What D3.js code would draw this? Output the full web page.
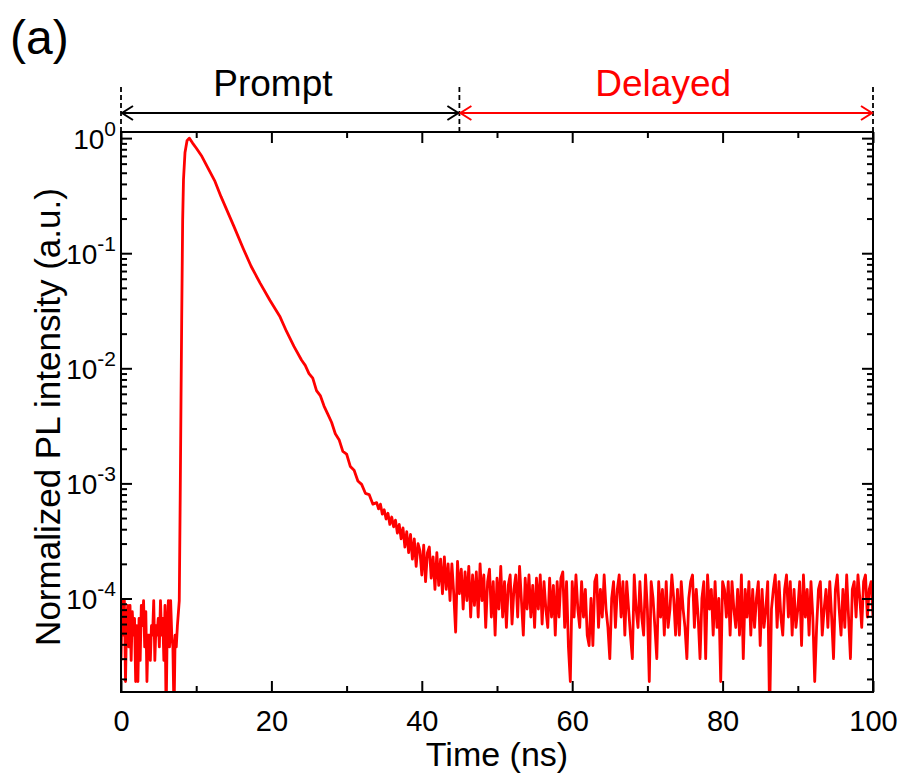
<!DOCTYPE html>
<html>
<head>
<meta charset="utf-8">
<script src="https://cdn.jsdelivr.net/npm/d3@7/dist/d3.min.js"></script>
<style>
  body { margin: 0; background: #fff; }
  text { font-family: "Liberation Sans", Arial, sans-serif; fill: #000; }
</style>
</head>
<body>
<script>
// ---- data ----

// background before the pulse
let baseTime = [0.00, 0.15, 0.30, 0.45, 0.60, 0.75, 0.90, 1.05, 1.20, 1.35, 1.50, 1.65,
  1.80, 1.95, 2.10, 2.25, 2.40, 2.55, 2.70, 2.85, 3.00, 3.15, 3.30, 3.45,
  3.60, 3.75, 3.90, 4.05, 4.20, 4.35, 4.50, 4.65, 4.80, 4.95, 5.10, 5.25,
  5.40, 5.55, 5.70, 5.85, 6.00, 6.15, 6.30, 6.45, 6.60, 6.75, 6.90, 7.05,
  7.20, 7.35];
let baseSignal = [2.9e-5, 9.6e-5, 4.8e-5, 9.6e-5, 1.9e-5, 6.7e-5, 8.7e-5, 3.8e-5, 8.7e-5, 2.9e-5, 7.7e-5, 4.8e-5,
  6.7e-5, 1.9e-5, 5.8e-5, 1.9e-5, 6.7e-5, 2.9e-5, 8.7e-5, 5.8e-5, 9.6e-5, 3.8e-5, 7.7e-5, 1.9e-5,
  4.8e-5, 4.8e-5, 2.9e-5, 5.8e-5, 4.8e-5, 9.6e-5, 2.9e-5, 5.8e-5, 4.8e-5, 6.7e-5, 3.8e-5, 9.6e-5,
  4.8e-5, 6.7e-5, 2.9e-5, 8.7e-5, 9.6e-6, 5.8e-5, 9.6e-5, 3.8e-5, 9.6e-5, 4.8e-5, 3.8e-5, 9.6e-6,
  4.8e-5, 3.8e-5];

// rise and main decay
let decayTime = [7.50, 7.75, 7.87, 7.98, 8.07, 8.20, 8.31, 8.51, 8.78, 9.08,
  9.50, 10.00, 10.75, 11.50, 12.50, 13.30, 14.05, 15.00, 16.25, 17.30,
  18.50, 19.80, 21.15, 22.00, 23.00, 24.00, 24.50, 25.00, 25.50, 26.00,
  26.50, 27.00, 27.50, 28.00, 28.50, 29.00, 29.50, 30.00, 30.50, 31.00,
  31.50, 32.00, 32.50, 33.00, 33.50];
let decaySignal = [5.8e-5, 9.6e-5, 7.1e-4, 5.3e-3, 0.026, 0.195, 0.435, 0.75, 0.95, 1.0,
  0.91, 0.82, 0.695, 0.56, 0.42, 0.31, 0.239, 0.172, 0.110, 0.077,
  0.055, 0.039, 0.028, 0.021, 0.0155, 0.0118, 0.0106, 0.0090, 0.0082, 0.0064,
  0.0058, 0.0047, 0.0040, 0.0034, 0.0027, 0.0024, 0.0019, 0.0018, 0.0014, 0.0013,
  0.00105, 0.00098, 0.00082, 0.00080, 0.00066];

// noisy tail of the prompt part
let tailTime = [34.00, 34.25, 34.50, 34.75, 35.00, 35.25, 35.50, 35.75, 36.00, 36.25, 36.50, 36.75,
  37.00, 37.25, 37.50, 37.75, 38.00, 38.25, 38.50, 38.75, 39.00, 39.25, 39.50, 39.75,
  40.00, 40.25, 40.50, 40.75, 41.00, 41.25, 41.50, 41.75, 42.00, 42.25, 42.50, 42.75,
  43.00, 43.25, 43.50, 43.75, 44.00, 44.25, 44.50, 44.75, 45.00, 45.25, 45.50, 45.75,
  46.00, 46.25, 46.50, 46.75, 47.00, 47.25, 47.50, 47.75, 48.00, 48.25, 48.50, 48.75,
  49.00, 49.25, 49.50, 49.75, 50.00, 50.25, 50.50, 50.75, 51.00, 51.25, 51.50, 51.75,
  52.00, 52.25, 52.50, 52.75, 53.00, 53.25, 53.50, 53.75, 54.00, 54.25, 54.50, 54.75,
  55.00, 55.25, 55.50, 55.75, 56.00, 56.25, 56.50, 56.75, 57.00, 57.25, 57.50, 57.75,
  58.00, 58.25, 58.50, 58.75, 59.00, 59.25, 59.50, 59.75];
let tailSignal = [6.8e-4, 6.0e-4, 6.6e-4, 5.4e-4, 5.9e-4, 4.9e-4, 5.5e-4, 4.4e-4, 5.1e-4, 4.2e-4, 4.8e-4, 3.7e-4,
  4.4e-4, 3.3e-4, 4.1e-4, 2.8e-4, 3.8e-4, 2.5e-4, 3.6e-4, 2.2e-4, 3.3e-4, 1.9e-4, 3.0e-4, 2.6e-4,
  1.6e-4, 2.9e-4, 1.4e-4, 2.5e-4, 2.8e-4, 1.5e-4, 2.3e-4, 1.2e-4, 2.5e-4, 1.3e-4, 2.2e-4, 1.1e-4,
  2.3e-4, 1.2e-4, 2.0e-4, 9.6e-5, 2.0e-4, 1.1e-4, 5.1e-5, 2.1e-4, 1.1e-4, 1.8e-4, 8.1e-5, 1.7e-4,
  9.6e-5, 1.9e-4, 6.9e-5, 1.6e-4, 8.7e-5, 1.7e-4, 6.9e-5, 2.0e-4, 9.6e-5, 1.6e-4, 5.6e-5, 1.4e-4,
  1.8e-4, 6.9e-5, 1.4e-4, 4.8e-5, 1.5e-4, 8.1e-5, 1.9e-4, 6.9e-5, 1.4e-4, 5.6e-5, 1.3e-4, 1.6e-4,
  6.0e-5, 1.2e-4, 1.6e-4, 6.9e-5, 1.9e-4, 9.6e-5, 4.8e-5, 1.5e-4, 8.1e-5, 1.6e-4, 6.9e-5, 1.3e-4,
  5.6e-5, 1.5e-4, 8.1e-5, 1.6e-4, 6.0e-5, 1.4e-4, 8.1e-5, 5.6e-5, 1.5e-4, 6.9e-5, 1.3e-4, 4.8e-5,
  1.4e-4, 6.9e-5, 1.5e-4, 1.7e-4, 5.6e-5, 1.4e-4, 3.8e-5, 1.9e-5];

// flat background at late times
let lateTime = [60.00, 60.25, 60.50, 60.75, 61.00, 61.25, 61.50, 61.75, 62.00, 62.25, 62.50, 62.75,
  63.00, 63.25, 63.50, 63.75, 64.00, 64.25, 64.50, 64.75, 65.00, 65.25, 65.50, 65.75,
  66.00, 66.25, 66.50, 66.75, 67.00, 67.25, 67.50, 67.75, 68.00, 68.25, 68.50, 68.75,
  69.00, 69.25, 69.50, 69.75, 70.00, 70.25, 70.50, 70.75, 71.00, 71.25, 71.50, 71.75,
  72.00, 72.25, 72.50, 72.75, 73.00, 73.25, 73.50, 73.75, 74.00, 74.25, 74.50, 74.75,
  75.00, 75.25, 75.50, 75.75, 76.00, 76.25, 76.50, 76.75, 77.00, 77.25, 77.50, 77.75,
  78.00, 78.25, 78.50, 78.75, 79.00, 79.25, 79.50, 79.75, 80.00, 80.25, 80.50, 80.75,
  81.00, 81.25, 81.50, 81.75, 82.00, 82.25, 82.50, 82.75, 83.00, 83.25, 83.50, 83.75,
  84.00, 84.25, 84.50, 84.75, 85.00, 85.25, 85.50, 85.75, 86.00, 86.25, 86.50, 86.75,
  87.00, 87.25, 87.50, 87.75, 88.00, 88.25, 88.50, 88.75, 89.00, 89.25, 89.50, 89.75,
  90.00, 90.25, 90.50, 90.75, 91.00, 91.25, 91.50, 91.75, 92.00, 92.25, 92.50, 92.75,
  93.00, 93.25, 93.50, 93.75, 94.00, 94.25, 94.50, 94.75, 95.00, 95.25, 95.50, 95.75,
  96.00, 96.25, 96.50, 96.75, 97.00, 97.25, 97.50, 97.75, 98.00, 98.25, 98.50, 98.75,
  99.00, 99.25, 99.50, 99.75, 100.00];
let lateSignal = [1.4e-4, 6.9e-5, 1.6e-4, 8.1e-5, 5.6e-5, 1.4e-4, 6.9e-5, 1.2e-4, 4.8e-5, 3.9e-5, 1.0e-4, 3.9e-5,
  1.4e-4, 1.6e-4, 5.6e-5, 1.2e-4, 6.9e-5, 1.6e-4, 8.1e-5, 5.6e-5, 3.0e-5, 1.0e-4, 1.4e-4, 5.6e-5,
  1.2e-4, 1.6e-4, 6.9e-5, 1.4e-4, 4.8e-5, 1.4e-4, 8.1e-5, 4.8e-5, 3.0e-5, 1.6e-4, 8.1e-5, 5.6e-5,
  1.4e-4, 6.9e-5, 4.8e-5, 1.6e-4, 8.1e-5, 1.9e-5, 1.4e-4, 1.0e-4, 5.6e-5, 3.0e-5, 1.4e-4, 6.9e-5,
  1.2e-4, 4.8e-5, 1.4e-4, 5.6e-5, 8.1e-5, 1.6e-4, 1.0e-4, 4.8e-5, 1.2e-4, 4.8e-5, 1.4e-4, 8.1e-5,
  5.6e-5, 3.0e-5, 1.0e-4, 1.4e-4, 1.6e-4, 5.6e-5, 1.2e-4, 6.9e-5, 3.0e-5, 1.0e-4, 1.4e-4, 3.0e-5,
  1.6e-4, 8.1e-5, 1.2e-4, 4.8e-5, 1.4e-4, 5.6e-5, 1.0e-4, 1.9e-5, 1.4e-4, 1.2e-4, 6.9e-5, 1.4e-4,
  4.8e-5, 1.4e-4, 8.1e-5, 5.6e-5, 1.2e-4, 4.8e-5, 1.6e-4, 3.0e-5, 1.2e-4, 6.9e-5, 1.4e-4, 4.8e-5,
  1.2e-4, 5.6e-5, 1.0e-4, 1.4e-4, 3.9e-5, 1.2e-4, 5.6e-5, 8.1e-5, 1.4e-4, 9.6e-6, 8.1e-5, 1.2e-4,
  1.6e-4, 5.6e-5, 1.4e-4, 6.9e-5, 4.8e-5, 1.2e-4, 1.6e-4, 6.9e-5, 1.4e-4, 4.8e-5, 1.2e-4, 5.6e-5,
  8.1e-5, 1.4e-4, 3.9e-5, 1.6e-4, 6.9e-5, 1.2e-4, 4.8e-5, 1.4e-4, 6.9e-5, 1.9e-5, 5.6e-5, 1.2e-4,
  1.4e-4, 4.8e-5, 8.1e-5, 1.2e-4, 5.6e-5, 1.4e-4, 6.9e-5, 3.0e-5, 1.2e-4, 1.6e-4, 8.1e-5, 4.8e-5,
  1.2e-4, 5.6e-5, 1.6e-4, 6.9e-5, 3.0e-5, 1.2e-4, 1.4e-4, 6.9e-5, 1.6e-4, 1.0e-4, 5.6e-5, 1.4e-4,
  1.6e-4, 6.9e-5, 1.2e-4, 1.4e-4, 6.9e-5];

// axes
let xDomain = [0, 100];
let yDomain = [1.54e-5, 1.13];
let xMajor = [0, 20, 40, 60, 80, 100];
let xMinor = [10, 30, 50, 70, 90];
let yMajor = [1e-4, 1e-3, 1e-2, 1e-1, 1];

// prompt / delayed windows (ns)
let windowEdges = [0, 45, 100];
let windowNames = ["Prompt", "Delayed"];
let windowLabelAt = [20.2, 72.1];
let windowColors = ["#000000", "#ff0000"];

// ---- chart ----

let svgWidth = 899;
let svgHeight = 778;

let margin = { top: 132, right: 26, bottom: 86, left: 121 };
let width = svgWidth - margin.left - margin.right;
let height = svgHeight - margin.top - margin.bottom;

let svg = d3.select("body")
  .append("svg")
  .attr("width", svgWidth)
  .attr("height", svgHeight);

let chartGroup = svg.append("g")
  .attr("transform", `translate(${margin.left}, ${margin.top})`);

let xScale = d3.scaleLinear().domain(xDomain).range([0, width]);
let yScale = d3.scaleLog().domain(yDomain).range([height, 0]);

let yMinor = yScale.ticks().filter(v => !yMajor.some(m => Math.abs(m - v) / m < 1e-6));

// join all segments into one trace
let traceTime = baseTime.concat(decayTime, tailTime, lateTime);
let traceSignal = baseSignal.concat(decaySignal, tailSignal, lateSignal);
let trace = d3.zip(traceTime, traceSignal);

svg.append("defs").append("clipPath")
  .attr("id", "plotClip")
  .append("rect")
  .attr("width", width)
  .attr("height", height);

let line = d3.line()
  .x(d => xScale(d[0]))
  .y(d => yScale(d[1]));

chartGroup.append("path")
  .datum(trace)
  .attr("clip-path", "url(#plotClip)")
  .attr("fill", "none")
  .attr("stroke", "#ff0000")
  .attr("stroke-width", 2.8)
  .attr("stroke-linejoin", "round")
  .attr("d", line);

// ticks on all four sides, pointing inwards
function drawAxis(axis, transform) {
  let g = chartGroup.append("g")
    .attr("transform", transform)
    .call(axis);
  g.select(".domain").remove();
  g.selectAll(".tick line").attr("stroke", "#000").attr("stroke-width", 2);
  return g;
}

let bottomAxis = drawAxis(
  d3.axisBottom(xScale).tickValues(xMajor).tickSizeInner(-11).tickSizeOuter(0).tickPadding(18),
  `translate(0, ${height})`);
bottomAxis.selectAll("text")
  .attr("font-size", 29)
  .attr("font-family", "Liberation Sans, Arial, sans-serif");

drawAxis(d3.axisBottom(xScale).tickValues(xMinor).tickSizeInner(-6).tickSizeOuter(0).tickFormat(""),
  `translate(0, ${height})`);
drawAxis(d3.axisTop(xScale).tickValues(xMajor).tickSizeInner(-11).tickSizeOuter(0).tickFormat(""),
  "translate(0, 0)");
drawAxis(d3.axisTop(xScale).tickValues(xMinor).tickSizeInner(-6).tickSizeOuter(0).tickFormat(""),
  "translate(0, 0)");

let leftAxis = drawAxis(
  d3.axisLeft(yScale).tickValues(yMajor).tickSizeInner(-11).tickSizeOuter(0),
  "translate(0, 0)");
leftAxis.selectAll("text").each(function(d) {
  let t = d3.select(this);
  t.text(null)
    .attr("x", -5)
    .attr("dy", null)
    .attr("y", 10)
    .attr("font-size", 28)
    .attr("font-family", "Liberation Sans, Arial, sans-serif");
  t.append("tspan").text("10");
  t.append("tspan")
    .attr("dy", -13)
    .attr("font-size", 21)
    .text(Math.round(Math.log10(d)));
});

drawAxis(d3.axisLeft(yScale).tickValues(yMinor).tickSizeInner(-6).tickSizeOuter(0).tickFormat(""),
  "translate(0, 0)");
drawAxis(d3.axisRight(yScale).tickValues(yMajor).tickSizeInner(-11).tickSizeOuter(0).tickFormat(""),
  `translate(${width}, 0)`);
drawAxis(d3.axisRight(yScale).tickValues(yMinor).tickSizeInner(-6).tickSizeOuter(0).tickFormat(""),
  `translate(${width}, 0)`);

// frame
chartGroup.append("rect")
  .attr("width", width)
  .attr("height", height)
  .attr("fill", "none")
  .attr("stroke", "#000")
  .attr("stroke-width", 2);

// axis titles
chartGroup.append("text")
  .attr("x", width / 2)
  .attr("y", height + 74)
  .attr("text-anchor", "middle")
  .attr("font-size", 34)
  .text("Time (ns)");

svg.append("text")
  .attr("transform", `translate(60, ${margin.top + 285}) rotate(-90)`)
  .attr("text-anchor", "middle")
  .attr("font-size", 35)
  .text("Normalized PL intensity (a.u.)");

// panel label
svg.append("text")
  .attr("x", 10)
  .attr("y", 54)
  .attr("font-family", "Open Sans, sans-serif")
  .attr("font-size", 48)
  .text("(a)");

// prompt / delayed arrows
let arrowY = 113;
let annot = svg.append("g").attr("transform", `translate(${margin.left}, 0)`);

annot.selectAll(".edge")
  .data(windowEdges)
  .enter()
  .append("line")
  .attr("x1", d => xScale(d))
  .attr("x2", d => xScale(d))
  .attr("y1", 87)
  .attr("y2", margin.top)
  .attr("stroke", "#000")
  .attr("stroke-width", 1.8)
  .attr("stroke-dasharray", "5,3");

windowNames.forEach(function(name, i) {
  let x0 = xScale(windowEdges[i]);
  let x1 = xScale(windowEdges[i + 1]);
  let col = windowColors[i];
  annot.append("line")
    .attr("x1", x0 + 1).attr("x2", x1 - 1)
    .attr("y1", arrowY).attr("y2", arrowY)
    .attr("stroke", col).attr("stroke-width", 2);
  annot.append("path")
    .attr("d", `M${x0 + 12},${arrowY - 7}L${x0 + 1},${arrowY}L${x0 + 12},${arrowY + 7}`)
    .attr("fill", "none").attr("stroke", col).attr("stroke-width", 2);
  annot.append("path")
    .attr("d", `M${x1 - 12},${arrowY - 7}L${x1 - 1},${arrowY}L${x1 - 12},${arrowY + 7}`)
    .attr("fill", "none").attr("stroke", col).attr("stroke-width", 2);
  annot.append("text")
    .attr("x", xScale(windowLabelAt[i]))
    .attr("y", 96)
    .attr("text-anchor", "middle")
    .attr("font-size", 37)
    .style("fill", col)
    .text(name);
});
</script>
</body>
</html>
